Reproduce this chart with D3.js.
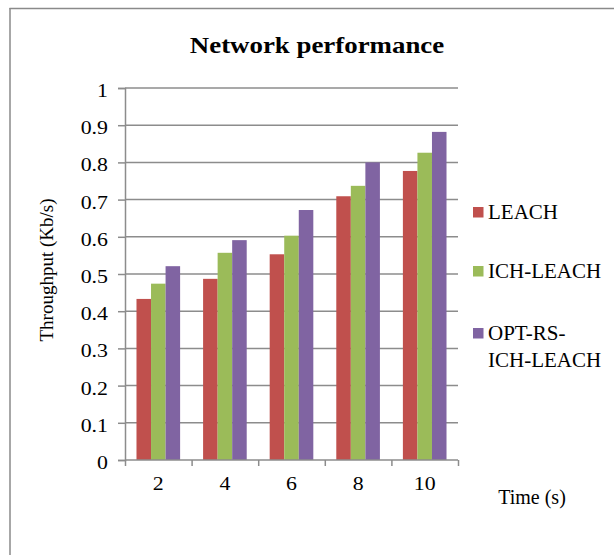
<!DOCTYPE html>
<html><head><meta charset="utf-8">
<script src="https://cdn.jsdelivr.net/npm/d3@7"></script>
<style>body{margin:0;background:#fff}svg{display:block}text{font-family:"Liberation Serif","Times New Roman",serif;fill:#000}</style>
</head><body><div id="c"></div>
<script>
const categories = ["2","4","6","8","10"];
const seriesNames = ["LEACH","ICH-LEACH","OPT-RS-ICH-LEACH"];
const leach = [0.433,0.487,0.553,0.709,0.777];
const ichLeach = [0.474,0.557,0.603,0.737,0.826];
const optRsIchLeach = [0.521,0.591,0.672,0.800,0.882];
const yTicks = [0,0.1,0.2,0.3,0.4,0.5,0.6,0.7,0.8,0.9,1];
const colors = ["#C0504D","#9BBB59","#8064A2"];
const series = [leach, ichLeach, optRsIchLeach];

const W=614,H=555;
const svg=d3.select("#c").append("svg").attr("width",W).attr("height",H);
// frame (top and left lines only visible)
svg.append("line").attr("x1",9.5).attr("x2",W).attr("y1",8.5).attr("y2",8.5).attr("stroke","#8a8a8a").attr("stroke-width",1.5);
svg.append("line").attr("x1",10).attr("x2",10).attr("y1",8).attr("y2",H).attr("stroke","#8a8a8a").attr("stroke-width",1.5);

const x0=125,x1=458,yTop=88,yBot=460;
const x=d3.scaleBand().domain(categories).range([x0,x1]).paddingInner(0.345).paddingOuter(0.1725);
const xs=d3.scaleBand().domain(d3.range(3)).range([0,x.bandwidth()]);
const y=d3.scaleLinear().domain([0,1]).range([yBot,yTop]);
const grid="#8c8c8c";

function stext(g,tx,ty,sx,size,anchor,str,weight){
  return g.append("text").attr("transform",`translate(${tx},${ty}) scale(${sx},1)`)
    .attr("text-anchor",anchor).attr("font-size",size+"px").attr("font-weight",weight||"normal").text(str);
}

// gridlines
svg.append("g").selectAll("line").data(yTicks.filter(d=>d>0)).join("line")
  .attr("x1",x0).attr("x2",x1).attr("y1",d=>y(d)).attr("y2",d=>y(d))
  .attr("stroke",grid).attr("stroke-width",1.5);

// y axis
const ya=svg.append("g").attr("transform",`translate(${x0},0)`)
  .call(d3.axisLeft(y).tickValues(yTicks).tickSize(7).tickFormat(""));
ya.select(".domain").attr("stroke",grid).attr("stroke-width",1.5);
ya.selectAll(".tick line").attr("stroke",grid).attr("stroke-width",1.5);
const yl=svg.append("g");
yTicks.forEach(d=>stext(yl,108,y(d)+9,1.15,19,"end",String(+d.toFixed(1))));

// bars
series.forEach((s,i)=>{
  svg.append("g").selectAll("rect").data(s).join("rect")
    .attr("x",(d,j)=>x(categories[j])+xs(i))
    .attr("width",xs.bandwidth())
    .attr("y",d=>y(d)).attr("height",d=>yBot-y(d))
    .attr("fill",colors[i]);
});

// x axis
const xb=d3.scaleLinear().domain([0,categories.length]).range([x0,x1]);
const xa=svg.append("g").attr("transform",`translate(0,${yBot})`)
  .call(d3.axisBottom(xb).tickValues(d3.range(categories.length+1)).tickSize(6).tickFormat(""));
xa.select(".domain").attr("stroke",grid).attr("stroke-width",1.5).attr("d",`M${x0},0H${x1}`);
xa.selectAll(".tick line").attr("stroke",grid).attr("stroke-width",1.5);
const xl=svg.append("g");
categories.forEach(c=>stext(xl,x(c)+x.bandwidth()/2,yBot+30,1.15,19,"middle",c));

// title
stext(svg,317,53,1.12,24,"middle","Network performance","bold");
// axis titles
svg.append("text").attr("transform","translate(53,270) rotate(-90)").attr("text-anchor","middle")
  .attr("font-size","19px").text("Throughput (Kb/s)");
stext(svg,532,504,1.0,20,"middle","Time (s)");

// legend
const legY=[212,271,333];
const labels=[["LEACH"],["ICH-LEACH"],["OPT-RS-","ICH-LEACH"]];
seriesNames.forEach((n,i)=>{
  svg.append("rect").attr("x",473).attr("y",legY[i]-5).attr("width",10.5).attr("height",10.5).attr("fill",colors[i]);
  labels[i].forEach((t,k)=>{
    stext(svg,488,legY[i]+7+k*27,1.05,20,"start",t);
  });
});
</script></body></html>
